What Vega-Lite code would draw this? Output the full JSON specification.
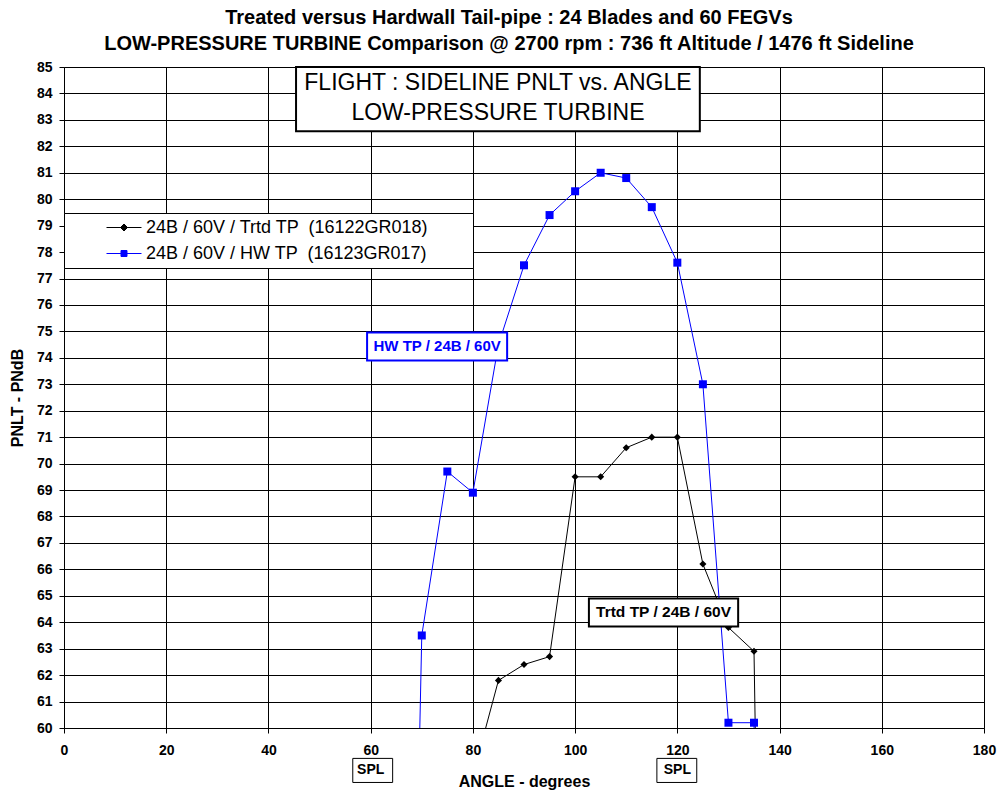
{
  "$schema": "https://vega.github.io/schema/vega-lite/v6.json",
  "width": 920,
  "height": 661,
  "autosize": "none",
  "padding": {"left": 64, "top": 67, "right": 14, "bottom": 64},
  "background": "white",
  "title": {
    "text": ["Treated versus Hardwall Tail-pipe : 24 Blades and 60 FEGVs", "LOW-PRESSURE TURBINE Comparison @ 2700 rpm : 736 ft Altitude / 1476 ft Sideline"],
    "font": "Liberation Sans",
    "fontSize": 20,
    "fontWeight": "bold",
    "color": "black",
    "lineHeight": 26,
    "anchor": "middle",
    "frame": "group",
    "dx": -15,
    "offset": 6
  },
  "data": {
    "values": [
      {"series": "24B / 60V / Trtd TP  (16122GR018)", "angle": 80, "pnlt": 58.2},
      {"series": "24B / 60V / Trtd TP  (16122GR018)", "angle": 85, "pnlt": 61.8},
      {"series": "24B / 60V / Trtd TP  (16122GR018)", "angle": 90, "pnlt": 62.4},
      {"series": "24B / 60V / Trtd TP  (16122GR018)", "angle": 95, "pnlt": 62.7},
      {"series": "24B / 60V / Trtd TP  (16122GR018)", "angle": 100, "pnlt": 69.5},
      {"series": "24B / 60V / Trtd TP  (16122GR018)", "angle": 105, "pnlt": 69.5},
      {"series": "24B / 60V / Trtd TP  (16122GR018)", "angle": 110, "pnlt": 70.6},
      {"series": "24B / 60V / Trtd TP  (16122GR018)", "angle": 115, "pnlt": 71.0},
      {"series": "24B / 60V / Trtd TP  (16122GR018)", "angle": 120, "pnlt": 71.0},
      {"series": "24B / 60V / Trtd TP  (16122GR018)", "angle": 125, "pnlt": 66.2},
      {"series": "24B / 60V / Trtd TP  (16122GR018)", "angle": 130, "pnlt": 63.8},
      {"series": "24B / 60V / Trtd TP  (16122GR018)", "angle": 135, "pnlt": 62.9},
      {"series": "24B / 60V / Trtd TP  (16122GR018)", "angle": 140, "pnlt": 3},
      {"series": "24B / 60V / HW TP  (16123GR017)", "angle": 65, "pnlt": 18},
      {"series": "24B / 60V / HW TP  (16123GR017)", "angle": 70, "pnlt": 63.5},
      {"series": "24B / 60V / HW TP  (16123GR017)", "angle": 75, "pnlt": 69.7},
      {"series": "24B / 60V / HW TP  (16123GR017)", "angle": 80, "pnlt": 68.9},
      {"series": "24B / 60V / HW TP  (16123GR017)", "angle": 85, "pnlt": 74.5},
      {"series": "24B / 60V / HW TP  (16123GR017)", "angle": 90, "pnlt": 77.5},
      {"series": "24B / 60V / HW TP  (16123GR017)", "angle": 95, "pnlt": 79.4},
      {"series": "24B / 60V / HW TP  (16123GR017)", "angle": 100, "pnlt": 80.3},
      {"series": "24B / 60V / HW TP  (16123GR017)", "angle": 105, "pnlt": 81.0},
      {"series": "24B / 60V / HW TP  (16123GR017)", "angle": 110, "pnlt": 80.8},
      {"series": "24B / 60V / HW TP  (16123GR017)", "angle": 115, "pnlt": 79.7},
      {"series": "24B / 60V / HW TP  (16123GR017)", "angle": 120, "pnlt": 77.6},
      {"series": "24B / 60V / HW TP  (16123GR017)", "angle": 125, "pnlt": 73.0},
      {"series": "24B / 60V / HW TP  (16123GR017)", "angle": 130, "pnlt": 60.2},
      {"series": "24B / 60V / HW TP  (16123GR017)", "angle": 135, "pnlt": 60.2},
      {"series": "24B / 60V / HW TP  (16123GR017)", "angle": 140, "pnlt": 0}
    ]
  },
  "encoding": {
    "x": {
      "field": "angle", "type": "quantitative",
      "scale": {"domain": [0, 180], "nice": false, "zero": false},
      "axis": {
        "values": [0, 20, 40, 60, 80, 100, 120, 140, 160, 180],
        "title": "ANGLE - degrees",
        "grid": true, "gridColor": "black", "gridOpacity": 1, "gridWidth": 1,
        "domainColor": "black", "tickColor": "black", "tickSize": 5,
        "labelFont": "Liberation Sans", "labelFontSize": 14, "labelFontWeight": "bold", "labelColor": "black",
        "labelPadding": 10, "labelFlush": false, "labelOverlap": false,
        "titleFont": "Liberation Sans", "titleFontSize": 16, "titleFontWeight": "bold", "titleColor": "black",
        "titlePadding": 16
      }
    },
    "y": {
      "field": "pnlt", "type": "quantitative",
      "scale": {"domain": [60, 85], "nice": false, "zero": false},
      "axis": {
        "values": [60, 61, 62, 63, 64, 65, 66, 67, 68, 69, 70, 71, 72, 73, 74, 75, 76, 77, 78, 79, 80, 81, 82, 83, 84, 85],
        "title": "PNLT - PNdB",
        "grid": true, "gridColor": "black", "gridOpacity": 1, "gridWidth": 1,
        "domainColor": "black", "tickColor": "black", "tickSize": 5,
        "labelFont": "Liberation Sans", "labelFontSize": 14, "labelFontWeight": "bold", "labelColor": "black",
        "labelPadding": 7, "labelFlush": false, "labelOverlap": false,
        "titleFont": "Liberation Sans", "titleFontSize": 16, "titleFontWeight": "bold", "titleColor": "black",
        "titlePadding": 11
      }
    }
  },
  "layer": [
    {
      "mark": {"type": "line", "strokeWidth": 1, "clip": true},
      "encoding": {
        "color": {
          "field": "series", "type": "nominal",
          "scale": {"domain": ["24B / 60V / Trtd TP  (16122GR018)", "24B / 60V / HW TP  (16123GR017)"], "range": ["#000000", "#0000ff"]},
          "legend": {
            "title": null,
            "orient": "none",
            "legendX": 0,
            "legendY": 146,
            "fillColor": "white",
            "strokeColor": "black",
            "padding": 5,
            "rowPadding": 7,
            "symbolSize": 324,
            "symbolOffset": 45.5,
            "labelOffset": 12.5,
            "labelFont": "Liberation Sans",
            "labelFontSize": 18,
            "labelColor": "black",
            "labelLimit": 600,
            "labelExpr": "replace(datum.label, '  ', ' \u00a0')",
            "encode": {
              "symbols": {
                "update": {
                  "shape": {"signal": "datum.value == '24B / 60V / Trtd TP  (16122GR018)' ? 'M-1.944,0H1.944M-0.389,0L0,-0.389L0.389,0L0,0.389ZM37.9,0' : 'M-1.944,0H1.944M-0.333,-0.333H0.333V0.333H-0.333ZM37.9,0'"},
                  "fill": {"signal": "datum.value == '24B / 60V / Trtd TP  (16122GR018)' ? '#000000' : '#0000ff'"},
                  "stroke": {"signal": "datum.value == '24B / 60V / Trtd TP  (16122GR018)' ? '#000000' : '#0000ff'"},
                  "strokeWidth": {"value": 1},
                  "opacity": {"value": 1}
                }
              }
            }
          }
        }
      }
    },
    {
      "transform": [{"filter": "datum.series == '24B / 60V / Trtd TP  (16122GR018)'"}],
      "mark": {"type": "point", "shape": "diamond", "filled": true, "color": "#000000", "size": 50, "opacity": 1, "clip": true}
    },
    {
      "transform": [{"filter": "datum.series == '24B / 60V / HW TP  (16123GR017)'"}],
      "mark": {"type": "point", "shape": "square", "filled": true, "color": "#0000ff", "size": 64, "opacity": 1, "clip": true}
    },
    {
      "transform": [{"filter": "datum.angle == 140 && datum.pnlt == 0"}],
      "mark": {"type": "rect", "fill": "white", "stroke": "black", "strokeWidth": 2},
      "encoding": {
        "x": {"datum": 45.4, "type": "quantitative"},
        "x2": {"datum": 124.4},
        "y": {"datum": 85.0, "type": "quantitative"},
        "y2": {"datum": 82.57}
      }
    },
    {
      "transform": [{"filter": "datum.angle == 140 && datum.pnlt == 0"}],
      "mark": {"type": "text", "text": "FLIGHT : SIDELINE PNLT vs. ANGLE", "font": "Liberation Sans", "fontSize": 23, "color": "black", "align": "center", "baseline": "middle"},
      "encoding": {
        "x": {"datum": 84.9, "type": "quantitative"},
        "y": {"datum": 84.4, "type": "quantitative"}
      }
    },
    {
      "transform": [{"filter": "datum.angle == 140 && datum.pnlt == 0"}],
      "mark": {"type": "text", "text": "LOW-PRESSURE TURBINE", "font": "Liberation Sans", "fontSize": 23, "color": "black", "align": "center", "baseline": "middle"},
      "encoding": {
        "x": {"datum": 84.9, "type": "quantitative"},
        "y": {"datum": 83.26, "type": "quantitative"}
      }
    },
    {
      "transform": [{"filter": "datum.angle == 140 && datum.pnlt == 0"}],
      "mark": {"type": "rect", "fill": "white", "stroke": "#0000ff", "strokeWidth": 2},
      "encoding": {
        "x": {"datum": 59.3, "type": "quantitative"},
        "x2": {"datum": 86.7},
        "y": {"datum": 74.96, "type": "quantitative"},
        "y2": {"datum": 73.9}
      }
    },
    {
      "transform": [{"filter": "datum.angle == 140 && datum.pnlt == 0"}],
      "mark": {"type": "text", "text": "HW TP / 24B / 60V", "font": "Liberation Sans", "fontSize": 15, "fontWeight": "bold", "color": "#0000ff", "align": "center", "baseline": "middle"},
      "encoding": {
        "x": {"datum": 73.0, "type": "quantitative"},
        "y": {"datum": 74.43, "type": "quantitative"}
      }
    },
    {
      "transform": [{"filter": "datum.angle == 140 && datum.pnlt == 0"}],
      "mark": {"type": "rect", "fill": "white", "stroke": "black", "strokeWidth": 2},
      "encoding": {
        "x": {"datum": 102.7, "type": "quantitative"},
        "x2": {"datum": 131.9},
        "y": {"datum": 64.9, "type": "quantitative"},
        "y2": {"datum": 63.84}
      }
    },
    {
      "transform": [{"filter": "datum.angle == 140 && datum.pnlt == 0"}],
      "mark": {"type": "text", "text": "Trtd TP / 24B / 60V", "font": "Liberation Sans", "fontSize": 15.5, "fontWeight": "bold", "color": "black", "align": "center", "baseline": "middle"},
      "encoding": {
        "x": {"datum": 117.3, "type": "quantitative"},
        "y": {"datum": 64.37, "type": "quantitative"}
      }
    },
    {
      "transform": [{"filter": "datum.angle == 140 && datum.pnlt == 0"}],
      "mark": {"type": "rect", "fill": "white", "stroke": "black", "strokeWidth": 1, "clip": false},
      "encoding": {
        "x": {"datum": 56.5, "type": "quantitative"},
        "x2": {"datum": 64.3},
        "y": {"datum": 58.85, "type": "quantitative"},
        "y2": {"datum": 57.94}
      }
    },
    {
      "transform": [{"filter": "datum.angle == 140 && datum.pnlt == 0"}],
      "mark": {"type": "text", "text": "SPL", "font": "Liberation Sans", "fontSize": 14, "fontWeight": "bold", "color": "black", "align": "center", "baseline": "middle", "clip": false},
      "encoding": {
        "x": {"datum": 60, "type": "quantitative"},
        "y": {"datum": 58.4, "type": "quantitative"}
      }
    },
    {
      "transform": [{"filter": "datum.angle == 140 && datum.pnlt == 0"}],
      "mark": {"type": "rect", "fill": "white", "stroke": "black", "strokeWidth": 1, "clip": false},
      "encoding": {
        "x": {"datum": 116.0, "type": "quantitative"},
        "x2": {"datum": 123.8},
        "y": {"datum": 58.85, "type": "quantitative"},
        "y2": {"datum": 57.94}
      }
    },
    {
      "transform": [{"filter": "datum.angle == 140 && datum.pnlt == 0"}],
      "mark": {"type": "text", "text": "SPL", "font": "Liberation Sans", "fontSize": 14, "fontWeight": "bold", "color": "black", "align": "center", "baseline": "middle", "clip": false},
      "encoding": {
        "x": {"datum": 120, "type": "quantitative"},
        "y": {"datum": 58.4, "type": "quantitative"}
      }
    }
  ],
  "config": {
    "view": {"stroke": null},
    "font": "Liberation Sans"
  }
}
